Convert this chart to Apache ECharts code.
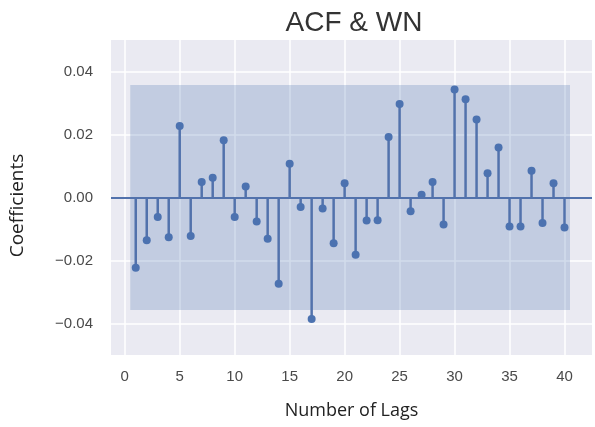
<!DOCTYPE html>
<html>
<head>
<meta charset="utf-8">
<script src="https://cdn.jsdelivr.net/npm/echarts@6/dist/echarts.min.js"></script>
<style>
  html, body { margin: 0; padding: 0; background: #fff; }
  #acfChart { width: 595px; height: 427px; }
</style>
</head>
<body>
<div id="acfChart"></div>
<script>
// lags 1..40 and their autocorrelation coefficients
var lags = [];
for (var i = 1; i <= 40; i++) lags.push(i);
var acfValues = [
  -0.0223, -0.0136, -0.0062, -0.0126, 0.0227, -0.0122, 0.0049, 0.0063, 0.0182, -0.0062,
  0.0035, -0.0076, -0.0131, -0.0274, 0.0107, -0.0030, -0.0386, -0.0035, -0.0145, 0.0045,
  -0.0182, -0.0073, -0.0072, 0.0192, 0.0297, -0.0044, 0.0009, 0.0049, -0.0086, 0.0343,
  0.0312, 0.0248, 0.0077, 0.0159, -0.0092, -0.0092, 0.0085, -0.0081, 0.0045, -0.0095
];
// confidence band (95%, white noise)
var bandX = [0.5, 40.5];
var bandY = [-0.0357, 0.0357];
var xTickLabels = [0, 5, 10, 15, 20, 25, 30, 35, 40];
var yTickLabels = [-0.04, -0.02, 0.00, 0.02, 0.04];

var stemData = lags.map(function (l, k) { return [l, acfValues[k]]; });

var chartDom = document.getElementById('acfChart');
var myChart = echarts.init(chartDom);
var option;
option = {
  backgroundColor: '#ffffff',
  animation: false,
  title: {
    text: 'ACF & WN',
    left: 349,
    textAlign: 'center',
    top: 4,
    textStyle: {
      fontFamily: 'Liberation Sans, Arial, sans-serif',
      fontSize: 28,
      fontWeight: 'normal',
      color: '#333333'
    }
  },
  grid: {
    left: 107,
    right: 3,
    top: 40,
    bottom: 72,
    show: true,
    backgroundColor: '#EAEAF2',
    borderWidth: 0
  },
  xAxis: {
    type: 'value',
    min: -1.25,
    max: 42.5,
    interval: 1.25,
    name: 'Number of Lags',
    nameLocation: 'middle',
    nameGap: 47,
    nameTextStyle: {
      fontFamily: 'Open Sans, sans-serif',
      fontSize: 18,
      color: '#222222'
    },
    axisLine: { show: false },
    axisTick: { show: false },
    axisLabel: {
      margin: 14,
      fontFamily: 'Liberation Sans, Arial, sans-serif',
      fontSize: 15,
      color: '#4a4a4a',
      formatter: function (v) {
        var r = Math.round(v * 100) / 100;
        return xTickLabels.indexOf(r) >= 0 ? String(r) : '';
      }
    },
    splitLine: {
      show: true,
      lineStyle: { color: ['transparent', '#ffffff', 'transparent', 'transparent'], width: 1.5 }
    }
  },
  yAxis: {
    type: 'value',
    min: -0.05,
    max: 0.05,
    interval: 0.01,
    name: 'Coefficients',
    nameLocation: 'middle',
    nameGap: 84,
    nameRotate: 90,
    nameTextStyle: {
      fontFamily: 'Open Sans, sans-serif',
      fontSize: 19,
      color: '#222222',
      padding: [0, 16, 0, 0]
    },
    axisLine: { show: false },
    axisTick: { show: false },
    axisLabel: {
      margin: 18,
      fontFamily: 'Liberation Sans, Arial, sans-serif',
      fontSize: 15,
      color: '#4a4a4a',
      formatter: function (v) {
        var r = Math.round(v * 100) / 100;
        for (var j = 0; j < yTickLabels.length; j++) {
          if (Math.abs(yTickLabels[j] - r) < 1e-9) {
            return yTickLabels[j].toFixed(2).replace('-', '\u2212');
          }
        }
        return '';
      }
    },
    splitLine: {
      show: true,
      lineStyle: { color: ['transparent', '#ffffff'], width: 1.5 }
    }
  },
  series: [
    {
      name: 'stems',
      type: 'bar',
      data: stemData,
      barWidth: 2.5,
      itemStyle: { color: '#5272AC' },
      z: 3,
      markArea: {
        silent: true,
        itemStyle: { color: 'rgba(76,114,176,0.25)' },
        data: [[{ coord: [bandX[0], bandY[0]] }, { coord: [bandX[1], bandY[1]] }]]
      },
      markLine: {
        silent: true,
        symbol: 'none',
        label: { show: false },
        lineStyle: { color: '#5272AC', width: 2, type: 'solid' },
        data: [{ yAxis: 0 }]
      }
    },
    {
      name: 'acf',
      type: 'scatter',
      data: stemData,
      symbolSize: 8,
      itemStyle: { color: '#4C72B0', opacity: 1 },
      z: 4
    }
  ]
};

option && myChart.setOption(option);
</script>
</body>
</html>
